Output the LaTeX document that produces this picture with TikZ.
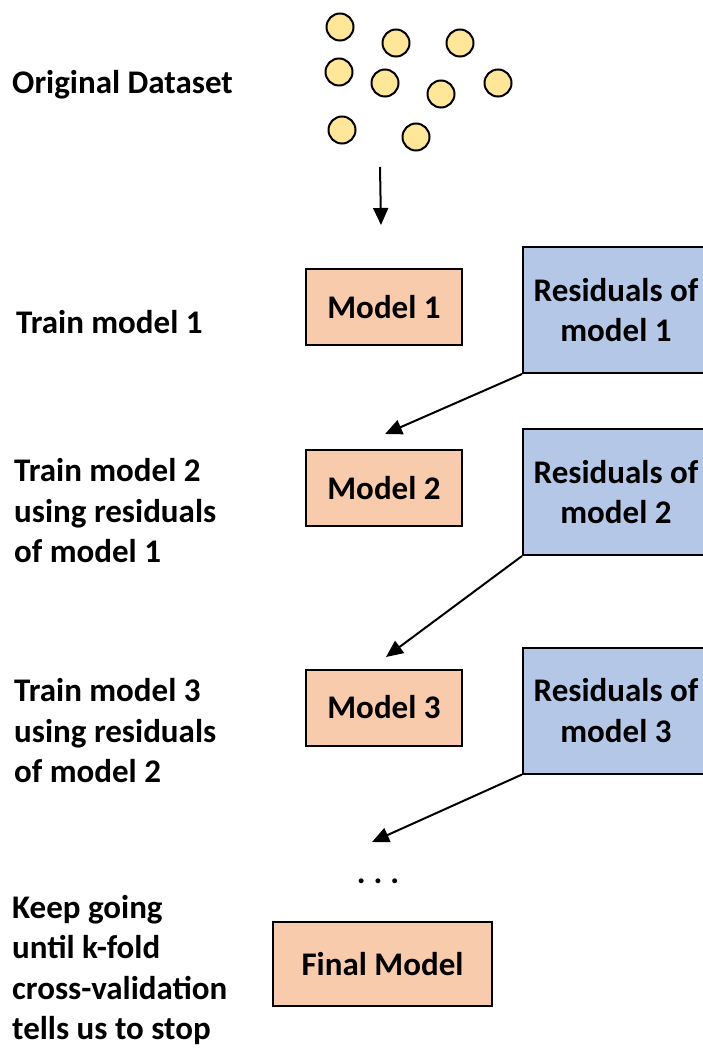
\documentclass[tikz,border=0pt]{standalone}
\usepackage{fontspec}
\setmainfont{Carlito}
\usetikzlibrary{arrows.meta}

\definecolor{dotfill}{HTML}{FFE699}
\definecolor{modelfill}{HTML}{F8CBAD}
\definecolor{residfill}{HTML}{B4C7E7}

\begin{document}
\begin{tikzpicture}[x=1pt, y=-1pt,
	bigtext/.style={font=\bfseries\fontsize{33}{40.5}\selectfont},
	steplabel/.style={bigtext, anchor=west, align=left, inner sep=0pt},
	modelbox/.style={bigtext, draw=black, line width=2pt, fill=modelfill, minimum width=156pt, minimum height=76pt, inner sep=0pt},
	residbox/.style={bigtext, draw=black, line width=2pt, fill=residfill, minimum width=186pt, minimum height=126pt, align=center, inner sep=0pt},
	datapoint/.style={circle, draw=black, line width=2pt, fill=dotfill, minimum size=27pt, inner sep=0pt},
	flow/.style={-{Triangle[width=15pt,length=17pt]}, line width=2pt}
	]
	
	\useasboundingbox (0,0) rectangle (703,1048);
	\clip (0,0) rectangle (703,1048);
	
	% --- Original dataset ---
	\foreach \px/\py [count=\k] in {340/27, 396/43, 460/43, 339/72, 385/83, 441/94, 498/83, 342/130, 416/137} {
		\node[datapoint] (d\k) at (\px,\py) {};
	}
	\coordinate (datatop) at (380,167);
	\coordinate (databot) at (381,225);
	\draw[flow] (datatop) -- (databot);
	
	% --- Left labels ---
	\node[steplabel] (l0) at (12,85) {Original Dataset};
	\node[steplabel] (l1) at (16,322) {Train model 1};
	\node[steplabel] (l2) at (14,511) {Train model 2\\using residuals\\of model 1};
	\node[steplabel] (l3) at (14,731) {Train model 3\\using residuals\\of model 2};
	\node[steplabel] (l4) at (12,970) {Keep going\\until k-fold\\cross-validation\\tells us to stop};
	
	% --- Models ---
	\node[modelbox] (m1) at (384,307) {Model 1};
	\node[modelbox] (m2) at (384,488) {Model 2};
	\node[modelbox] (m3) at (384,707.5) {Model 3};
	\node[modelbox, minimum width=219pt, minimum height=84pt] (mf) at (382.5,964) {Final Model};
	
	% --- Residuals ---
	\foreach \k/\cy in {1/310, 2/492, 3/710.5} {
		\node[residbox] (r\k) at (616,\cy) {Residuals of\\model \k};
	}
	
	% arrow ends above the next model
	\coordinate (e1) at (385,434);
	\coordinate (e2) at (386,657);
	\coordinate (e3) at (372,842);
	\foreach \k in {1,2,3} {
		\draw[flow] (r\k.south west) -- (e\k);
	}
	
	% --- and so on ---
	\node[bigtext, anchor=base, inner sep=0pt] (more) at (378,883) {.\hspace{8pt}.\hspace{8pt}.};
	
\end{tikzpicture}
\end{document}
